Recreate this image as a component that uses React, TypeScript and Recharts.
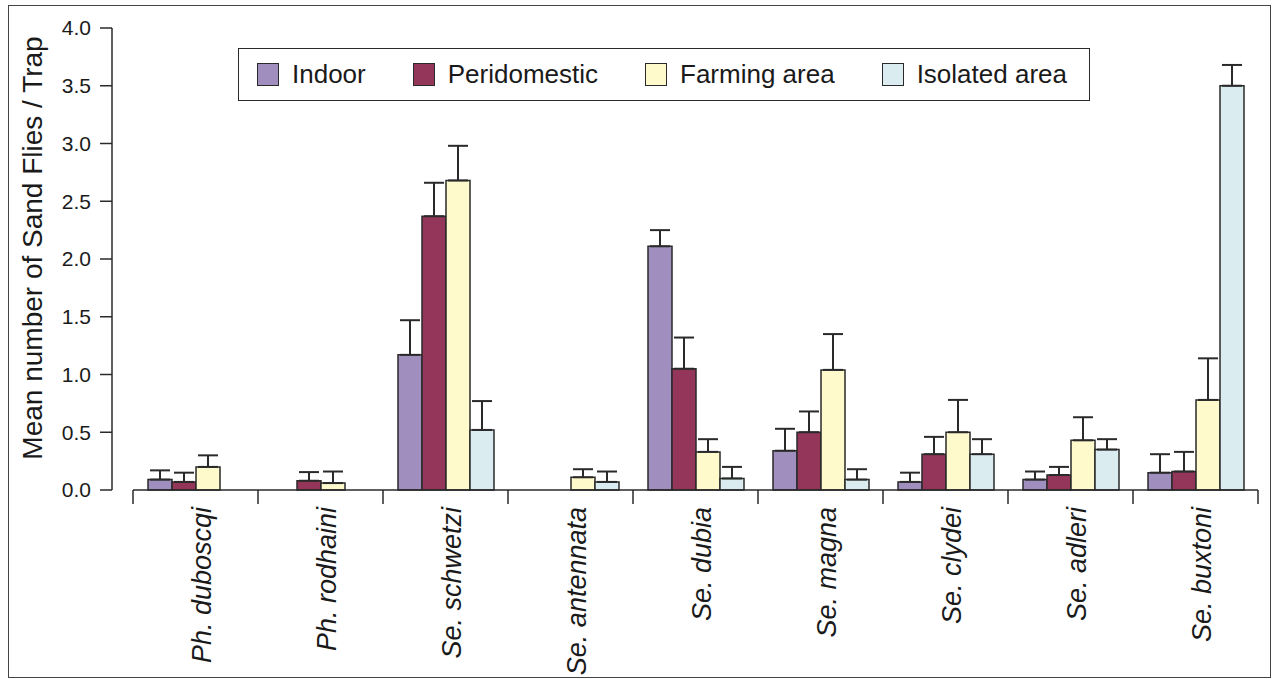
import React from 'react';
import { BarChart, Bar, XAxis, YAxis, ErrorBar, Legend } from 'recharts';

const categories = ['Ph. duboscqi', 'Ph. rodhaini', 'Se. schwetzi', 'Se. antennata', 'Se. dubia', 'Se. magna', 'Se. clydei', 'Se. adleri', 'Se. buxtoni'];

// mean values per trap location
const indoor = [0.09, null, 1.17, null, 2.11, 0.34, 0.07, 0.09, 0.15];
const peridomestic = [0.07, 0.08, 2.37, null, 1.05, 0.5, 0.31, 0.13, 0.16];
const farming = [0.2, 0.06, 2.68, 0.11, 0.33, 1.04, 0.5, 0.43, 0.78];
const isolated = [null, null, 0.52, 0.07, 0.1, 0.09, 0.31, 0.35, 3.5];

// upper error (standard error) per bar
const indoorErr = [0.08, null, 0.3, null, 0.14, 0.19, 0.08, 0.07, 0.16];
const peridomesticErr = [0.08, 0.075, 0.29, null, 0.27, 0.18, 0.15, 0.07, 0.17];
const farmingErr = [0.1, 0.1, 0.3, 0.07, 0.11, 0.31, 0.28, 0.2, 0.36];
const isolatedErr = [null, null, 0.25, 0.09, 0.1, 0.09, 0.13, 0.09, 0.18];

const yTicks = [0, 0.5, 1, 1.5, 2, 2.5, 3, 3.5, 4];

const up = (e: number | null) => (e == null ? null : [0, e]);

const data = categories.map((name, i) => ({
  name,
  indoor: indoor[i],
  peridomestic: peridomestic[i],
  farming: farming[i],
  isolated: isolated[i],
  indoorErr: up(indoorErr[i]),
  peridomesticErr: up(peridomesticErr[i]),
  farmingErr: up(farmingErr[i]),
  isolatedErr: up(isolatedErr[i]),
}));

const FONT = '"Liberation Sans", Arial, Helvetica, sans-serif';
const INK = '#2a2a2a';

const series = [
  { key: 'indoor', name: 'Indoor', fill: '#a08fbe' },
  { key: 'peridomestic', name: 'Peridomestic', fill: '#933659' },
  { key: 'farming', name: 'Farming area', fill: '#fffacc' },
  { key: 'isolated', name: 'Isolated area', fill: '#daecf0' },
];

// category tick: axis segment over the band, tick marks at band edges, rotated label
const SpeciesTick = ({ x, y, payload, index }: any) => {
  const half = payload.offset || 0;
  const last = index === categories.length - 1;
  const ly = y + 17;
  return (
    <g>
      <line x1={x - half} x2={x + half} y1={y} y2={y} stroke={INK} strokeWidth={1.5} />
      <line x1={x - half} x2={x - half} y1={y} y2={y + 14} stroke={INK} strokeWidth={1.5} />
      {last && <line x1={x + half} x2={x + half} y1={y} y2={y + 14} stroke={INK} strokeWidth={1.5} />}
      <text
        x={x}
        y={ly}
        transform={`rotate(-90 ${x} ${ly})`}
        textAnchor="end"
        dy={15}
        fontFamily={FONT}
        fontSize={27}
        fontStyle="italic"
        fill="#1a1a1a"
      >
        {payload.value}
      </text>
    </g>
  );
};

const renderLegend = (props: any) => {
  const { payload } = props;
  // keep the series order instead of the sorted payload order
  const items = series.map((s) => payload.find((p: any) => p.value === s.name) || { value: s.name, color: s.fill });
  return (
    <div
      style={{
        boxSizing: 'border-box',
        width: 852,
        height: 53,
        border: `1.5px solid ${INK}`,
        background: '#fff',
        display: 'flex',
        alignItems: 'center',
        paddingLeft: 18,
        fontFamily: FONT,
        fontSize: 26,
        color: '#1a1a1a',
        whiteSpace: 'nowrap',
      }}
    >
      {items.map((entry: any, i: number) => (
        <div key={i} style={{ display: 'flex', alignItems: 'center', marginRight: 47, flexShrink: 0 }}>
          <span
            style={{
              display: 'inline-block',
              boxSizing: 'border-box',
              width: 22,
              height: 23,
              background: entry.color,
              border: `1.5px solid ${INK}`,
              marginRight: 13,
            }}
          />
          <span>{entry.value}</span>
        </div>
      ))}
    </div>
  );
};

const YLabel = ({ viewBox }: any) => {
  const cx = viewBox.x + 42;
  const cy = viewBox.y + viewBox.height / 2 - 11;
  return (
    <text
      x={cx}
      y={cy}
      transform={`rotate(-90 ${cx} ${cy})`}
      textAnchor="middle"
      fontFamily={FONT}
      fontSize={28}
      fill="#1a1a1a"
    >
      Mean number of Sand Flies / Trap
    </text>
  );
};

export default function App() {
  return (
    <div style={{ position: 'absolute', left: 0, top: 0, width: 1274, height: 679, background: '#fff' }}>
      <div
        style={{
          position: 'absolute',
          left: 8,
          top: 5,
          width: 1263,
          height: 673,
          boxSizing: 'border-box',
          border: '1.5px solid #444',
        }}
      />
      <BarChart
        width={1274}
        height={679}
        data={data}
        margin={{ top: 28, right: 16, bottom: 0, left: 0 }}
        barGap={0}
        barSize={24}
      >
        <XAxis
          dataKey="name"
          padding={{ left: 21, right: 0 }}
          height={189}
          interval={0}
          axisLine={false}
          tickLine={false}
          tickSize={0}
          tickMargin={0}
          tick={<SpeciesTick />}
        />
        <YAxis
          width={112}
          domain={[0, 4]}
          ticks={yTicks}
          tickFormatter={(v: number) => v.toFixed(1)}
          axisLine={{ stroke: INK, strokeWidth: 1.5 }}
          tickLine={{ stroke: INK, strokeWidth: 1.5 }}
          tickSize={12}
          tickMargin={9}
          tick={{ fontFamily: FONT, fontSize: 21, fill: '#1a1a1a' }}
          label={<YLabel />}
        />
        <Legend
          verticalAlign="middle"
          align="center"
          layout="horizontal"
          content={renderLegend}
          wrapperStyle={{ top: 48, left: 238, width: 852, height: 53 }}
        />
        {series.map((s) => (
          <Bar
            key={s.key}
            dataKey={s.key}
            name={s.name}
            fill={s.fill}
            stroke={INK}
            strokeWidth={1.5}
            isAnimationActive={false}
          >
            <ErrorBar dataKey={`${s.key}Err`} width={10} stroke={INK} strokeWidth={2} direction="y" />
          </Bar>
        ))}
      </BarChart>
    </div>
  );
}
